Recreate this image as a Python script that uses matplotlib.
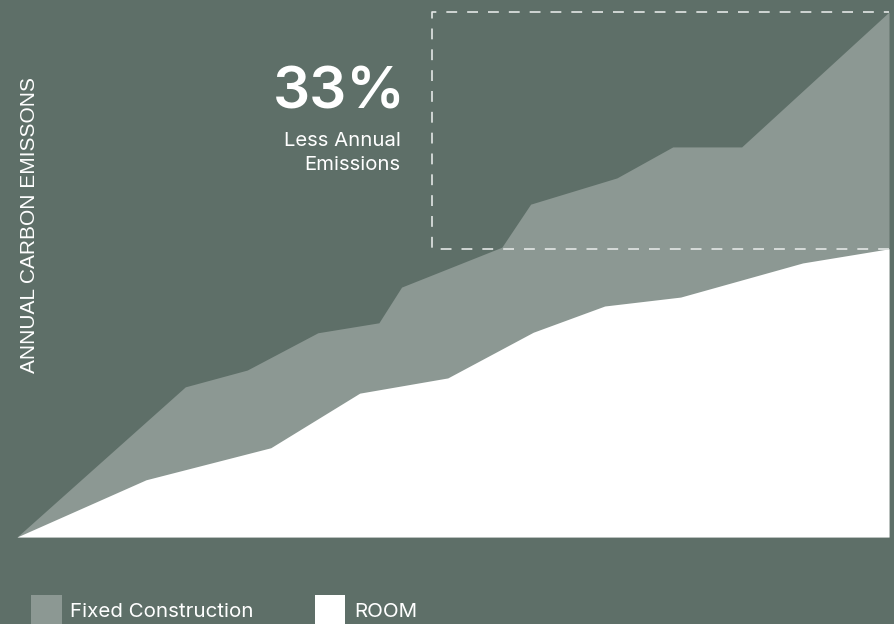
import matplotlib.pyplot as plt
from matplotlib.patches import Rectangle

# chart data (0-100 scale on both axes)
fixed_x = [0, 19.3, 26.4, 34.5, 41.5, 44.1, 55.6, 58.9, 68.8, 75.2, 83.1, 100]
fixed_y = [0, 28.6, 31.8, 38.9, 40.8, 47.6, 55.2, 63.4, 68.4, 74.3, 74.3, 100]
room_x = [0, 14.8, 29.1, 39.3, 49.4, 59.2, 67.4, 76.1, 90.1, 100]
room_y = [0, 10.9, 17.0, 27.4, 30.3, 39.0, 44.0, 45.7, 52.2, 54.9]
box_x = [47.6, 100]
box_y = [54.9, 100]
series_names = ['Fixed Construction', 'ROOM']
headline = '33%'
subline = ['Less Annual', 'Emissions']
ylabel = 'ANNUAL CARBON EMISSONS'

bg = '#5e6f68'
gray = '#8c9893'

fig = plt.figure(figsize=(8.95, 6.24), dpi=100, facecolor=bg)
ax = fig.add_axes([17 / 895, 87 / 624, 872 / 895, 525 / 624], facecolor=bg)
ax.set_xlim(0, 100)
ax.set_ylim(0, 100)
ax.axis('off')

ax.fill_between(fixed_x, 0, fixed_y, color=gray, lw=0)
ax.fill_between(room_x, 0, room_y, color='white', lw=0)

# dashed highlight box (open on the right, where the area reaches the edge)
ax.plot([box_x[1], box_x[0], box_x[0], box_x[1]],
        [box_y[0], box_y[0], box_y[1], box_y[1]],
        color='#e3e7e5', lw=1.2, ls=(0, (6.5, 6)), clip_on=False)

ax.text(44.6, 84.4, headline, ha='right', va='center', color='white',
        fontsize=42, fontweight='semibold', family='Inter')
ax.text(44.0, 75.4, subline[0], ha='right', va='center', color='white',
        fontsize=14.6, family='Inter')
ax.text(44.0, 70.8, subline[1], ha='right', va='center', color='white',
        fontsize=14.6, family='Inter')

fig.text(29.5 / 895, 1 - 225 / 624, ylabel, rotation=90, ha='center', va='center',
         color='white', fontsize=15, family='Liberation Sans')

# legend
fig.patches.append(Rectangle((31 / 895, 0), 31 / 895, 29 / 624,
                             transform=fig.transFigure, color=gray, lw=0))
fig.patches.append(Rectangle((315 / 895, 0), 30 / 895, 29 / 624,
                             transform=fig.transFigure, color='white', lw=0))
fig.text(70 / 895, 1 - 612 / 624, series_names[0], ha='left', va='center',
         color='white', fontsize=14.8, family='Inter')
fig.text(354 / 895, 1 - 612 / 624, series_names[1], ha='left', va='center',
         color='white', fontsize=14.8, family='Inter')

fig.savefig('out.png', dpi=100, facecolor=bg)
